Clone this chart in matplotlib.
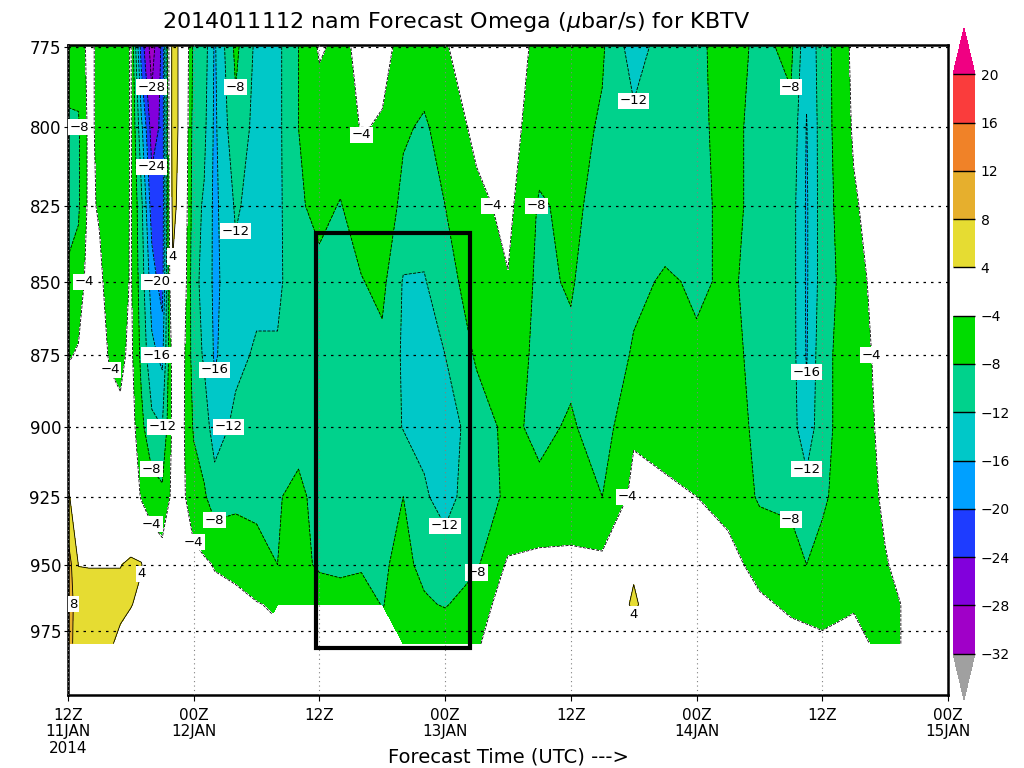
import numpy as np
import matplotlib
matplotlib.use('Agg')
import matplotlib.pyplot as plt
from matplotlib.colors import ListedColormap, BoundaryNorm
from matplotlib.patches import Rectangle
from matplotlib.ticker import NullLocator

nan = np.nan

# forecast hours from 12Z 11JAN2014
hours = [0, 1, 2, 3, 4, 5, 6, 7, 8, 9, 10, 11, 12, 13, 14, 16, 18, 20, 22, 24,
         26, 28, 30, 32, 34, 36, 39, 42, 45, 48, 51, 54, 57, 60, 63, 66, 69,
         70.5, 72, 75, 78, 81, 84]
pressure = [775, 800, 825, 850, 875, 900, 925, 950, 965, 980]

# omega (microbar/s), one row per forecast hour, columns follow `pressure`
omega = [
    [-6.5, -8.5, -9, -7.5, -4.5, 0, 4.5, 10, 10, 10],
    [-6, -8.5, -8.5, -6.5, -3.5, -1, 1.5, 3.9, 6, 5.5],
    [-3, -3, -3, -2, -1, 0, 1, 3.8, 6, 5.5],
    [-5, -5, -4.5, -3, -2, -1, 1, 3.8, 6, 5],
    [-7, -7, -7, -6, -4.5, -2, 0, 3.8, 6, 4.5],
    [-7, -7.5, -7, -6.5, -5, -3, 0, 3.9, 5, 3],
    [-3.5, -3.5, -3.5, -3.5, -3, -2, 0, 4.5, 4.2, 2],
    [-22, -15, -11, -10, -9, -7, -4.5, 4.3, 3, 1],
    [-30, -26, -22, -18, -15, -11, -6, -1, 0, 0],
    [-23, -23, -23, -22, -17, -12, -7, -2, -1, 0],
    [7, 7, 6, 3, -2, -3, -3, -1.5, -1, 0],
    [1, 1, 0, -1, -3, -3.5, -3.5, -2, -1.5, -1],
    [-9, -10, -10.5, -11, -10, -8.5, -6, -3, -2, -1],
    [-10, -11, -12.5, -13, -12.5, -10, -7.5, -3.5, -2, -1],
    [-16.5, -16.8, -17, -17, -16.5, -14, -10, -4.2, -3, -2],
    [-7, -9, -11.5, -13, -13, -11, -9, -5, -3, -2],
    [-13, -13.5, -13.5, -13, -11.5, -10, -9, -6.5, -3.8, -2.5],
    [-13, -13, -13, -13, -11.5, -10, -8.3, -8, -4.5, nan],
    [-8, -8, -8.5, -9, -10, -9.5, -7, -7, -5, nan],
    [-3.5, -6, -7, -9, -10, -10, -9.5, -8.5, -6, nan],
    [-5, -6, -8.2, -9, -10, -10, -10, -9, -6, nan],
    [-3, -3.8, -6, -8.2, -9.5, -10, -10, -8.5, -6, nan],
    [-3, -4.3, -5.5, -7, -9, -9.5, -9, -8.5, -8.2, nan],
    [-5, -7.5, -9, -12.3, -12.5, -12.2, -8, -7, -6, -5],
    [-6, -8.5, -10, -12.3, -13, -13, -11.5, -9, -7.5, -5],
    [-4.2, -6.5, -8, -9.5, -12, -14, -13.5, -10, -8.3, -5],
    [-2.5, -3, -5, -6, -7.5, -10, -9.5, -8.5, -6, -4.5],
    [-2, -2.5, -3, -4.2, -6, -7, -7.5, -3.5, -2, -1],
    [-5, -6, -8.5, -9, -9, -9, -7, -3, -2, -1],
    [-6, -6.5, -7, -7.5, -9, -7.5, -6.5, -3, -2, -1.5],
    [-7.5, -8.5, -9.5, -11.5, -11, -10, -8, -3, -2, -1],
    [-14, -11, -10.5, -9, -7.5, -4.5, -3, 3, 5, 1],
    [-10, -10, -10, -7.5, -7, -6, -3, -2, -1.5, -1],
    [-9, -9, -9, -8.5, -7.5, -6, -4, -2.5, -2, -1],
    [-6, -6.5, -7, -7.5, -7, -6, -5, -3, -2, -1.5],
    [-9, -9.5, -9, -9, -9, -9, -8.5, -5, -3.5, -2],
    [-7, -9, -10, -10, -10, -10, -9, -6, -4.5, -3],
    [-15, -16.2, -16.5, -16.5, -16.3, -15, -10, -8, -5, -3],
    [-10, -10, -10, -10, -9, -9, -8.5, -7, -5, -3.5],
    [-3, -3.5, -4.5, -5.5, -6, -6, -6, -5.5, -4.3, -3],
    [-1, -1, -1.5, -2, -2.5, -3, -3.5, -4.2, -5, -5],
    [-1, -1, -1, -1.5, -2, -2, -2, -2.5, -3, -3],
    [-1, -1, -1, -1, -1, -1, -1, -1, -1, -1],
]

clevs = [-32, -28, -24, -20, -16, -12, -8, -4, 4, 8, 12, 16, 20]
fill_colors = ['#a000c8', '#8200dc', '#1e3cff', '#00a0ff', '#00c8c8', '#00d28c',
               '#00dc00', '#ffffff', '#e6dc32', '#e6af2d', '#f08228', '#fa3c3c']
under_color = '#a0a0a0'
over_color = '#f00082'

xticks = [0, 12, 24, 36, 48, 60, 72, 84]
xlabels = ['12Z\n11JAN\n2014', '00Z\n12JAN', '12Z', '00Z\n13JAN', '12Z',
           '00Z\n14JAN', '12Z', '00Z\n15JAN']
yticks = [775, 800, 825, 850, 875, 900, 925, 950, 975]

# highlighted box (hours, hPa)
box_t = (23.7, 38.4)
box_p = (834, 981.5)

T, P = np.meshgrid(hours, pressure)
Z = np.ma.masked_invalid(np.array(omega, dtype=float).T)

cmap = ListedColormap(fill_colors)
cmap.set_under(under_color)
cmap.set_over(over_color)
norm = BoundaryNorm(clevs, cmap.N)

fig = plt.figure(figsize=(10.24, 7.68), dpi=100)
ax = fig.add_axes([68/1024, 73/768, 880/1024, 650/768])

cf = ax.contourf(T, P, Z, levels=clevs, cmap=cmap, norm=norm, extend='both')
cs = ax.contour(T, P, Z, levels=clevs, colors='black', linewidths=0.6)


def fmt(v):
    return f'{v:.0f}'.replace('-', '\u2212')


# GrADS style labels: horizontal, in white boxes
labels = ax.clabel(cs, fmt=fmt, fontsize=9.5, inline=False)
for t in labels:
    t.set_rotation(0)
    t.set_bbox(dict(boxstyle='square,pad=0.12', facecolor='white', edgecolor='none'))
    t.set_zorder(6)

ax.add_patch(Rectangle((box_t[0], box_p[0]), box_t[1] - box_t[0], box_p[1] - box_p[0],
                       fill=False, edgecolor='black', linewidth=3, zorder=10))

ax.set_yscale('log')
ax.set_ylim(1000, 774.5)
ax.set_xlim(0, 84)
ax.set_yticks(yticks, [str(v) for v in yticks])
ax.yaxis.set_minor_locator(NullLocator())
ax.set_xticks(xticks, xlabels)
ax.tick_params(axis='y', labelsize=12, length=3, pad=2)
ax.tick_params(axis='x', labelsize=11, length=4, pad=5)
for lbl in ax.get_xticklabels():
    lbl.set_linespacing(1.15)

ax.yaxis.grid(True, color='black', linestyle=(0, (2, 4)), linewidth=0.9)
ax.xaxis.grid(True, color='grey', linestyle=(0, (1, 3)), linewidth=0.8)
ax.set_axisbelow(False)
for s in ax.spines.values():
    s.set_linewidth(1.8)

fig.text(0.445, 0.972, '2014011112 nam Forecast Omega ($\\mu$bar/s) for KBTV',
         ha='center', va='center', fontsize=16)
fig.text(0.497, 0.014, 'Forecast Time (UTC) --->', ha='center', va='center', fontsize=14)

cax = fig.add_axes([953/1024, 68/768, 22/1024, 672/768])
cb = fig.colorbar(cf, cax=cax, extendfrac=0.08, ticks=clevs, drawedges=True)
cb.outline.set_visible(False)
cb.dividers.set_color('black')
cb.dividers.set_linewidth(1)
cb.ax.set_yticklabels([fmt(v) for v in clevs])
cax.tick_params(length=0, labelsize=10, pad=4)

fig.savefig('out.png', dpi=100)
